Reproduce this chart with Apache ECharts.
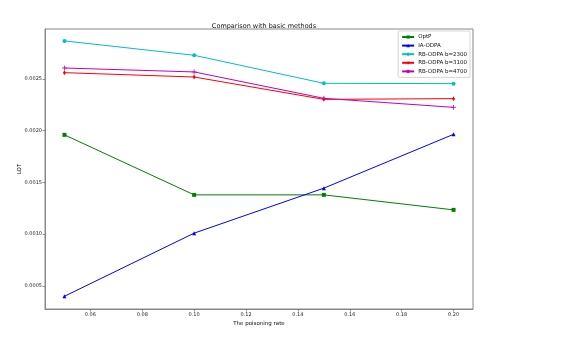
<!DOCTYPE html>
<html>
<head>
<meta charset="utf-8">
<script src="https://cdn.jsdelivr.net/npm/echarts@6/dist/echarts.min.js"></script>
<style>
  html, body { margin: 0; padding: 0; background: #fff; }
  #chart { width: 573px; height: 342px; }
</style>
</head>
<body>
<div id="chart"></div>
<script>
// poisoning rates on x axis
let rates = [0.05, 0.10, 0.15, 0.20];
let optP = [0.00196, 0.00138, 0.00138, 0.001235];
let iaOdpa = [0.00040, 0.00101, 0.001445, 0.001965];
let rb2300 = [0.002868, 0.002729, 0.002458, 0.002455];
let rb3100 = [0.002561, 0.002519, 0.002303, 0.00231];
let rb4700 = [0.002606, 0.002568, 0.002313, 0.002226];
let xTicks = [0.06, 0.08, 0.10, 0.12, 0.14, 0.16, 0.18, 0.20];
let yTicks = [0.0005, 0.0010, 0.0015, 0.0020, 0.0025];

let plusPath = 'path://M5,0L5,10M0,5L10,5';

function pair(vals) {
  return rates.map((r, i) => [r, vals[i]]);
}

let seriesDefs = [
  {name: 'OptP', data: optP, color: '#008000', symbol: 'rect', size: 4},
  {name: 'IA-ODPA', data: iaOdpa, color: '#0000ff', symbol: 'triangle', size: 4},
  {name: 'RB-ODPA b=2300', data: rb2300, color: '#00bfbf', symbol: 'circle', size: 4},
  {name: 'RB-ODPA b=3100', data: rb3100, color: '#ff0000', symbol: 'diamond', size: [3, 5]},
  {name: 'RB-ODPA b=4700', data: rb4700, color: '#c000c0', symbol: plusPath, size: 5}
];

let myChart = echarts.init(document.getElementById('chart'));

let option = {
  backgroundColor: '#fff',
  animation: false,
  title: {
    text: 'Comparison with basic methods',
    left: 259,
    top: 18,
    textAlign: 'center',
    textStyle: {fontFamily: 'DejaVu Sans', fontSize: 6.5, fontWeight: 'normal', color: '#111'}
  },
  legend: {
    orient: 'vertical',
    right: 103,
    top: 31,
    padding: [3, 3, 3, 3],
    itemWidth: 12,
    itemHeight: 4,
    itemGap: 2.6,
    backgroundColor: '#fff',
    borderColor: '#ccc',
    borderWidth: 0.8,
    borderRadius: 1,
    textStyle: {fontFamily: 'DejaVu Sans', fontSize: 5.5, color: '#111', padding: [0, 0, 0, -1]},
    data: seriesDefs.map(s => s.name)
  },
  grid: {
    left: 45,
    right: 100,
    top: 29,
    bottom: 33,
    show: true,
    borderColor: '#888',
    borderWidth: 1
  },
  xAxis: {
    type: 'value',
    min: 0.0425,
    max: 0.2075,
    name: 'The poisoning rate',
    nameLocation: 'middle',
    nameGap: 12,
    nameMoveOverlap: false,
    nameTextStyle: {fontFamily: 'DejaVu Sans', fontSize: 5.5, color: '#111'},
    splitLine: {show: false},
    axisLine: {show: true, lineStyle: {color: '#888', width: 1}},
    axisTick: {show: true, customValues: xTicks, length: 2.5, lineStyle: {color: '#555', width: 0.6}},
    axisLabel: {
      customValues: xTicks,
      margin: 3,
      fontFamily: 'DejaVu Sans',
      fontSize: 5,
      color: '#222',
      formatter: v => v.toFixed(2)
    }
  },
  yAxis: {
    type: 'value',
    min: 0.000277,
    max: 0.002983,
    name: 'LOT',
    nameLocation: 'middle',
    nameGap: 22,
    nameMoveOverlap: false,
    nameRotate: 90,
    nameTextStyle: {fontFamily: 'DejaVu Sans', fontSize: 5.5, color: '#111'},
    splitLine: {show: false},
    axisLine: {show: true, lineStyle: {color: '#888', width: 1}},
    axisTick: {show: true, customValues: yTicks, length: 2.5, lineStyle: {color: '#555', width: 0.6}},
    axisLabel: {
      customValues: yTicks,
      margin: 3,
      fontFamily: 'DejaVu Sans',
      fontSize: 5,
      color: '#222',
      formatter: v => v.toFixed(4)
    }
  },
  series: seriesDefs.map((s, i) => ({
    name: s.name,
    type: 'line',
    data: pair(s.data),
    symbol: s.symbol,
    symbolSize: s.size,
    showAllSymbol: true,
    lineStyle: {color: s.color, width: 1},
    itemStyle: {color: s.color, borderColor: s.color, borderWidth: i === 4 ? 0.8 : 0},
    emphasis: {disabled: true}
  }))
};

myChart.setOption(option);
</script>
</body>
</html>
